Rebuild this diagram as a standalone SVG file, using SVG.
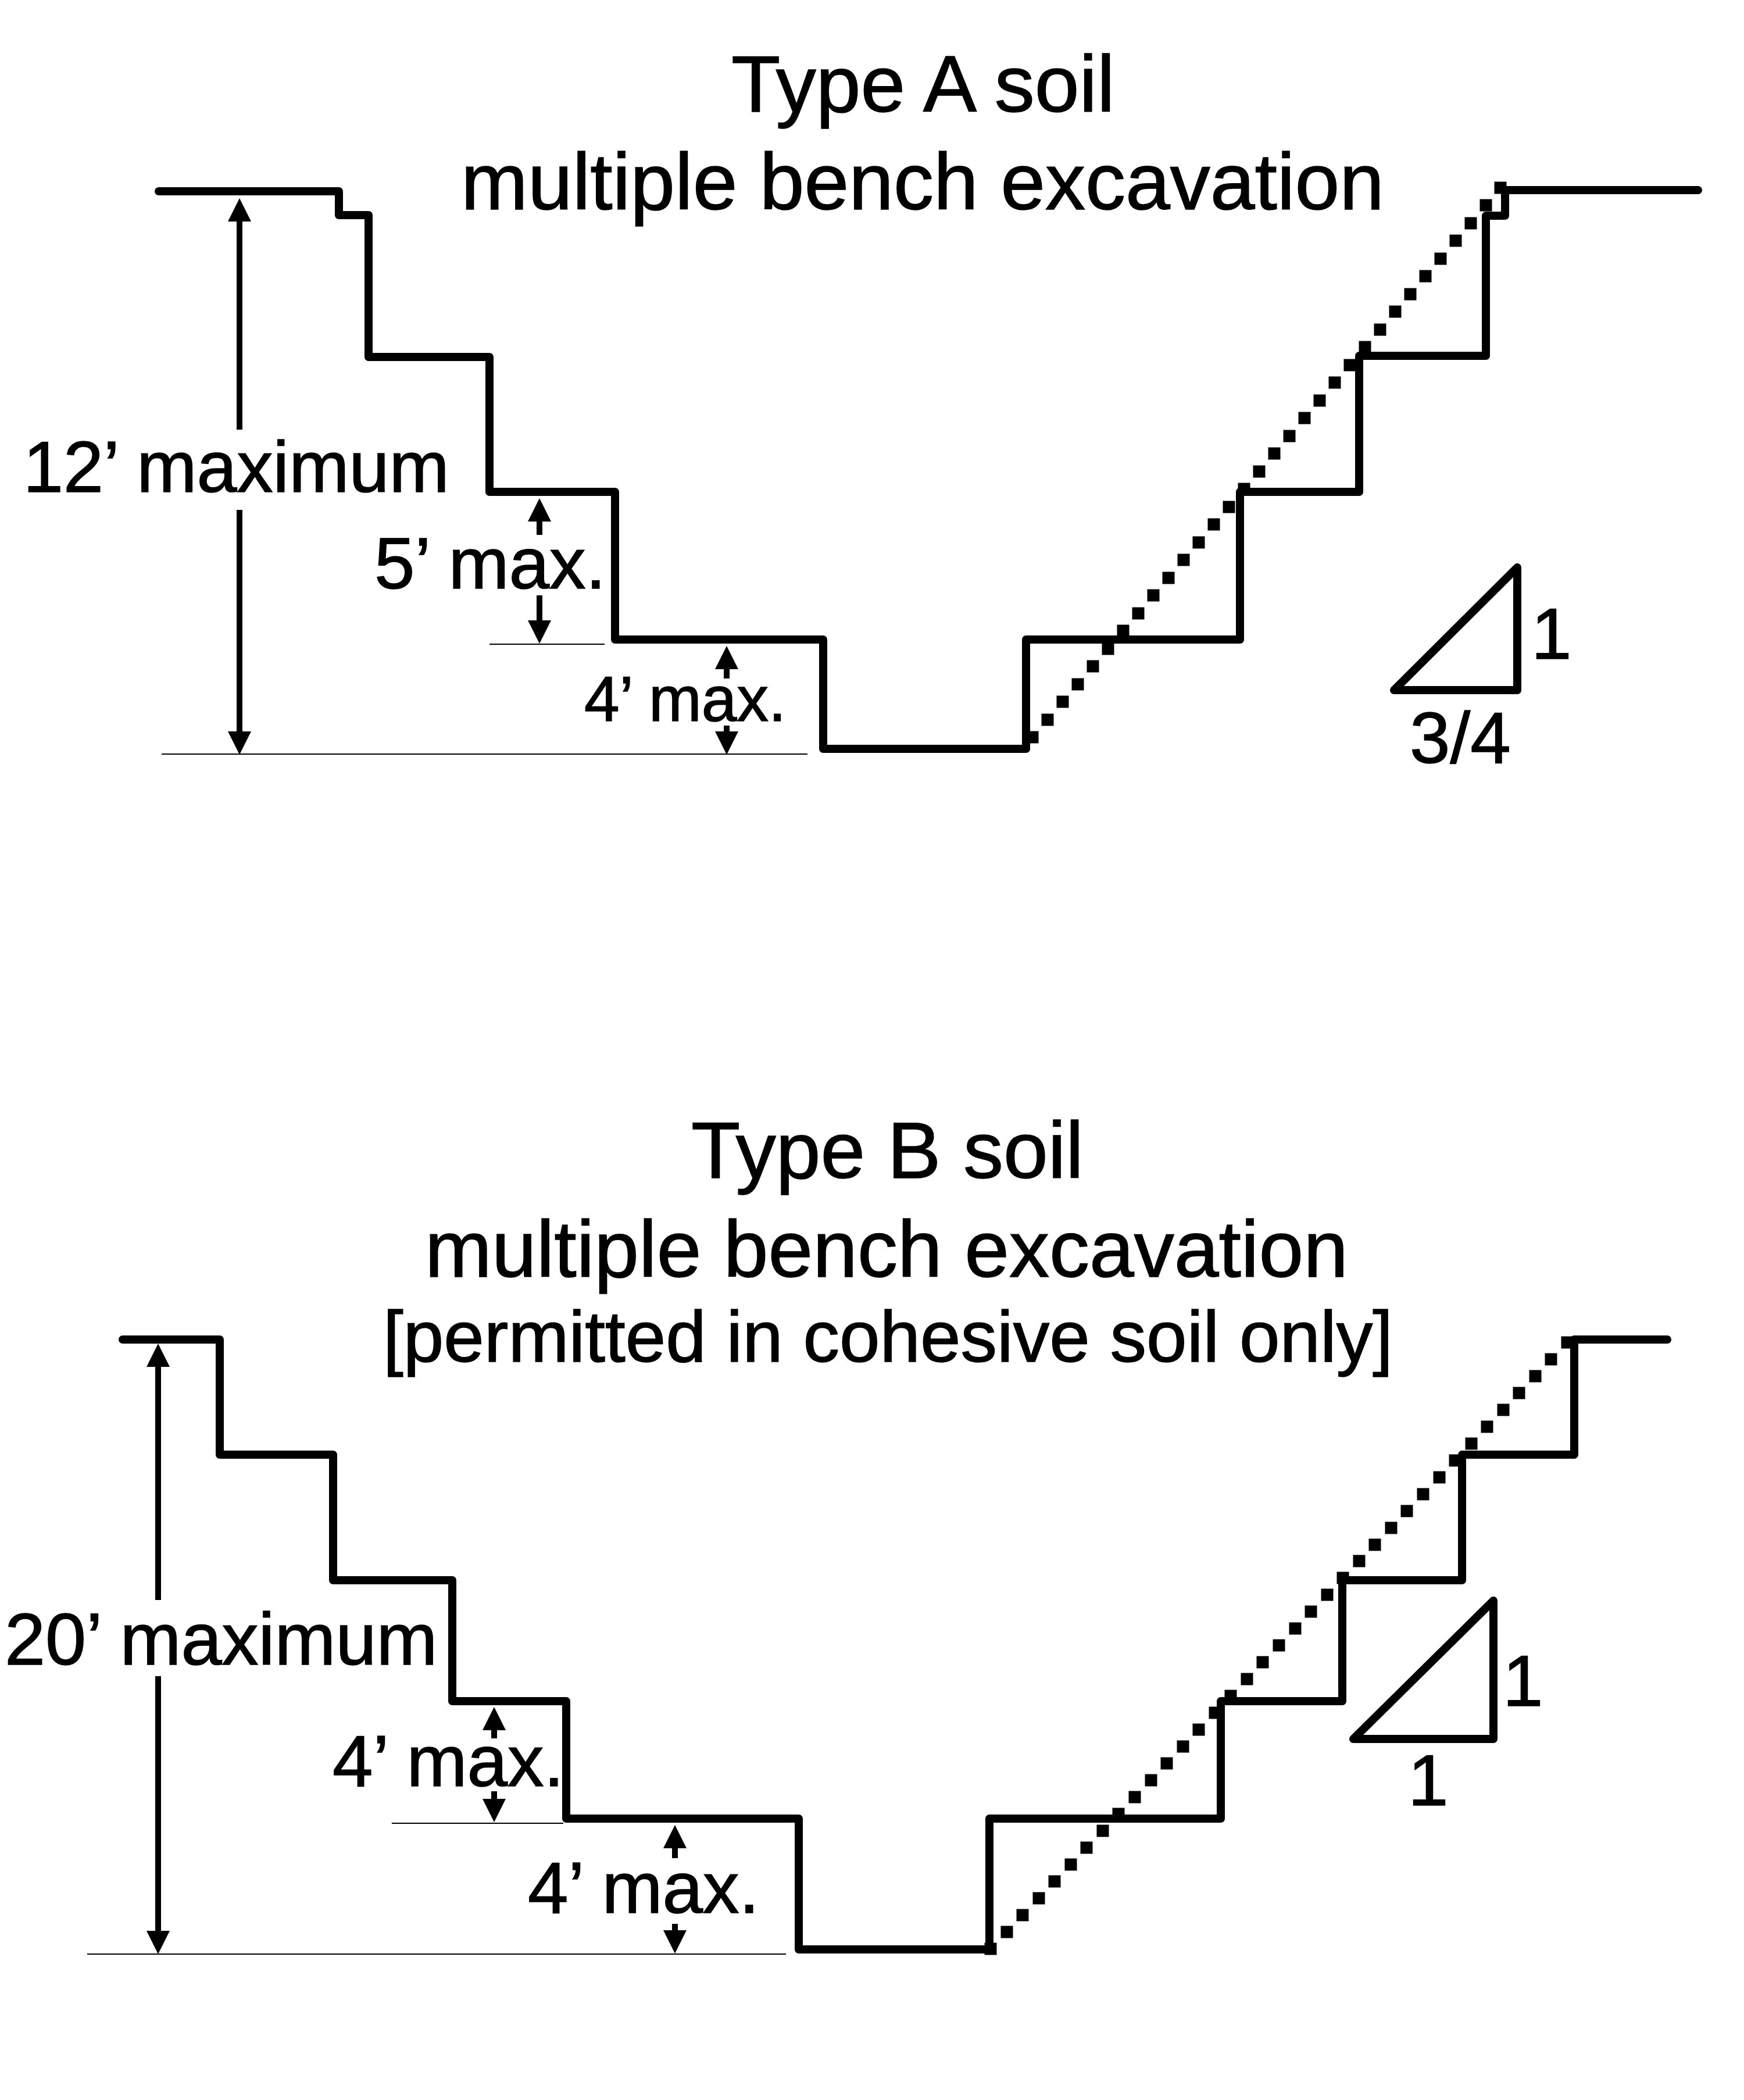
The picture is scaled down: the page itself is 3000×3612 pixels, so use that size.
<svg xmlns="http://www.w3.org/2000/svg" xmlns:xlink="http://www.w3.org/1999/xlink" width="3000" height="3612" viewBox="0 0 3000 3612">
<style>
text{font-family:"Liberation Sans",Arial,sans-serif;fill:#000;stroke:#000;stroke-width:1.5}
.t{font-size:138px}.m{font-size:125px}.s{font-size:108px}
.p{fill:none;stroke:#000;stroke-width:14;stroke-linejoin:round;stroke-linecap:round}
.d{fill:none;stroke:#000;stroke-width:10;marker-end:url(#ah)}
.b{stroke:#000;stroke-width:2;fill:none}
.q{fill:#000}
</style>
<defs>
<marker id="ah" markerUnits="userSpaceOnUse" markerWidth="42" markerHeight="44" refX="0" refY="21" orient="auto"><path d="M0 1L40 21L0 41Z" fill="#000"/></marker>
<rect id="sq" x="-10.500" y="-10.500" width="21" height="21" class="q"/>
</defs>
<rect width="3000" height="3612" fill="#fff"/>
<g id="type-a">
<text class="t" x="1258" y="192">Type A soil</text>
<text class="t" x="793" y="360">multiple bench excavation</text>
<path class="p" d="M273 329H583V370H634V614H842V846H1058V1100H1416V1288H1765V1100H2133V846H2338V612H2556V371H2589V327H2921"/>
<g id="a-slope">
<use xlink:href="#sq" x="1776" y="1268"/><use xlink:href="#sq" x="1802" y="1238"/><use xlink:href="#sq" x="1828" y="1207"/><use xlink:href="#sq" x="1854" y="1177"/><use xlink:href="#sq" x="1880" y="1146"/><use xlink:href="#sq" x="1906" y="1116"/><use xlink:href="#sq" x="1932" y="1085"/><use xlink:href="#sq" x="1958" y="1055"/><use xlink:href="#sq" x="1984" y="1024"/><use xlink:href="#sq" x="2010" y="994"/><use xlink:href="#sq" x="2036" y="963"/><use xlink:href="#sq" x="2062" y="933"/><use xlink:href="#sq" x="2088" y="902"/><use xlink:href="#sq" x="2114" y="872"/><use xlink:href="#sq" x="2140" y="841"/><use xlink:href="#sq" x="2166" y="811"/><use xlink:href="#sq" x="2192" y="780"/><use xlink:href="#sq" x="2218" y="750"/><use xlink:href="#sq" x="2244" y="719"/><use xlink:href="#sq" x="2270" y="689"/><use xlink:href="#sq" x="2296" y="658"/><use xlink:href="#sq" x="2322" y="628"/><use xlink:href="#sq" x="2348" y="597"/><use xlink:href="#sq" x="2374" y="567"/><use xlink:href="#sq" x="2400" y="536"/><use xlink:href="#sq" x="2426" y="506"/><use xlink:href="#sq" x="2452" y="475"/><use xlink:href="#sq" x="2478" y="445"/><use xlink:href="#sq" x="2504" y="414"/><use xlink:href="#sq" x="2530" y="384"/><use xlink:href="#sq" x="2556" y="353"/><use xlink:href="#sq" x="2581" y="323"/>
</g>
<g id="a-dimensions">
<line class="b" x1="278" y1="1297" x2="1389" y2="1297"/>
<line class="b" x1="842" y1="1108" x2="1040" y2="1108"/>
<line class="d" x1="412" y1="739" x2="412" y2="381"/>
<line class="d" x1="412" y1="877" x2="412" y2="1258"/>
<line class="d" x1="928" y1="920" x2="928" y2="897"/>
<line class="d" x1="928" y1="1024" x2="928" y2="1067"/>
<line class="d" x1="1250" y1="1167" x2="1250" y2="1151"/>
<line class="d" x1="1250" y1="1248" x2="1250" y2="1258"/>
<text class="m" font-size="124" style="font-size:124px" x="40" y="846">12’ maximum</text>
<text class="m" x="644" y="1012">5’ max.</text>
<text class="s" style="font-size:109px" x="1005" y="1240">4’ max.</text>
</g>
<g id="a-triangle">
<path class="p" d="M2398 1187H2610V976Z"/>
<text class="m" x="2634" y="1133">1</text>
<text class="m" x="2425" y="1312">3/4</text>
</g>
</g>
<g id="type-b">
<text class="t" x="1189" y="2026">Type B soil</text>
<text class="t" x="731" y="2196">multiple bench excavation</text>
<text class="m" x="659" y="2342">[permitted in cohesive soil only]</text>
<path class="p" d="M211 2304H378V2502H573V2718H778V2926H974V3128H1374V3353H1702V3128H2100V2926H2309V2718H2515V2502H2708V2304H2868"/>
<g id="b-slope">
<use xlink:href="#sq" x="1704" y="3352"/><use xlink:href="#sq" x="1732" y="3323"/><use xlink:href="#sq" x="1759" y="3294"/><use xlink:href="#sq" x="1787" y="3265"/><use xlink:href="#sq" x="1814" y="3236"/><use xlink:href="#sq" x="1842" y="3207"/><use xlink:href="#sq" x="1869" y="3178"/><use xlink:href="#sq" x="1897" y="3149"/><use xlink:href="#sq" x="1924" y="3120"/><use xlink:href="#sq" x="1952" y="3091"/><use xlink:href="#sq" x="1980" y="3062"/><use xlink:href="#sq" x="2007" y="3033"/><use xlink:href="#sq" x="2035" y="3004"/><use xlink:href="#sq" x="2062" y="2975"/><use xlink:href="#sq" x="2090" y="2946"/><use xlink:href="#sq" x="2117" y="2917"/><use xlink:href="#sq" x="2145" y="2888"/><use xlink:href="#sq" x="2172" y="2859"/><use xlink:href="#sq" x="2200" y="2830"/><use xlink:href="#sq" x="2228" y="2801"/><use xlink:href="#sq" x="2255" y="2772"/><use xlink:href="#sq" x="2283" y="2743"/><use xlink:href="#sq" x="2310" y="2714"/><use xlink:href="#sq" x="2338" y="2685"/><use xlink:href="#sq" x="2365" y="2657"/><use xlink:href="#sq" x="2393" y="2628"/><use xlink:href="#sq" x="2420" y="2599"/><use xlink:href="#sq" x="2448" y="2570"/><use xlink:href="#sq" x="2476" y="2541"/><use xlink:href="#sq" x="2503" y="2512"/><use xlink:href="#sq" x="2531" y="2483"/><use xlink:href="#sq" x="2558" y="2454"/><use xlink:href="#sq" x="2586" y="2425"/><use xlink:href="#sq" x="2613" y="2396"/><use xlink:href="#sq" x="2641" y="2367"/><use xlink:href="#sq" x="2668" y="2338"/><use xlink:href="#sq" x="2696" y="2309"/>
</g>
<g id="b-dimensions">
<line class="b" x1="150" y1="3361" x2="1352" y2="3361"/>
<line class="b" x1="674" y1="3136" x2="969" y2="3136"/>
<line class="d" x1="272" y1="2752" x2="272" y2="2351"/>
<line class="d" x1="272" y1="2883" x2="272" y2="3321"/>
<line class="d" x1="850" y1="2990" x2="850" y2="2976"/>
<line class="d" x1="850" y1="3081" x2="850" y2="3094"/>
<line class="d" x1="1161" y1="3196" x2="1161" y2="3179"/>
<line class="d" x1="1161" y1="3309" x2="1161" y2="3320"/>
<text class="m" style="font-size:126px" x="8" y="2863">20’ maximum</text>
<text class="m" x="572" y="3072">4’ max.</text>
<text class="m" x="908" y="3290">4’ max.</text>
</g>
<g id="b-triangle">
<path class="p" d="M2328 2991H2569V2753Z"/>
<text class="m" x="2585" y="2934">1</text>
<text class="m" x="2422" y="3105">1</text>
</g>
</g>
</svg>
